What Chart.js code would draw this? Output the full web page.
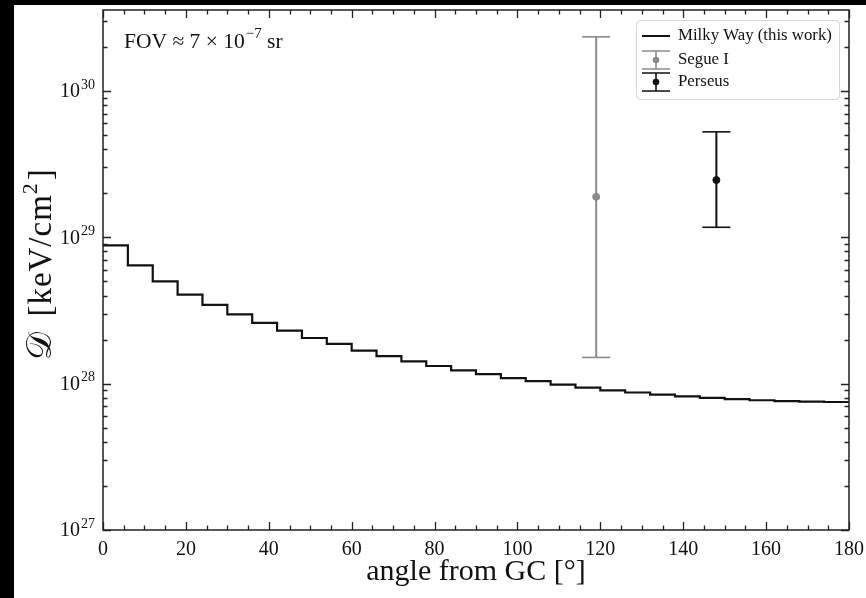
<!DOCTYPE html>
<html>
<head>
<meta charset="utf-8">
<script src="https://cdn.jsdelivr.net/npm/chart.js@4.4.1/dist/chart.umd.min.js"></script>
<style>
  html, body { margin: 0; padding: 0; background: #000; }
  #wrap { position: absolute; left: 14px; top: 5px; width: 852px; height: 593px; background: #fff; }
</style>
</head>
<body>
<div id="wrap"><canvas id="chart"></canvas></div>
<script>
// bin edges of the Milky Way histogram (deg) and the value in each 6 deg bin
const angleEdges = [0, 6, 12, 18, 24, 30, 36, 42, 48, 54, 60, 66, 72, 78, 84, 90,
  96, 102, 108, 114, 120, 126, 132, 138, 144, 150, 156, 162, 168, 174, 180];
const milkyWay = [8.8e28, 6.42e28, 4.99e28, 4.05e28, 3.45e28, 2.97e28, 2.6e28, 2.3e28,
  2.05e28, 1.87e28, 1.68e28, 1.54e28, 1.42e28, 1.32e28, 1.23e28, 1.16e28, 1.09e28,
  1.04e28, 0.985e28, 0.94e28, 0.9e28, 0.87e28, 0.84e28, 0.818e28, 0.8e28, 0.783e28,
  0.77e28, 0.76e28, 0.753e28, 0.749e28];

// dwarf / cluster points with error bars
const segueAngle = 119, segueD = 1.89e29, segueLo = 1.51e28, segueHi = 2.34e30;
const perseusAngle = 148, perseusD = 2.46e29, perseusLo = 1.17e29, perseusHi = 5.25e29;

const yDecades = [27, 28, 29, 30];

const GREY = "#8a8a8a";
const SERIF = "'Liberation Serif', 'DejaVu Serif', serif";

const stepData = angleEdges.map((a, i) => ({ x: a, y: milkyWay[Math.min(i, milkyWay.length - 1)] }));

function errorBar(x, lo, hi, color) {
    return {
        data: [{ x: x, y: lo }, { x: x, y: hi }],
        borderColor: color,
        borderWidth: 2,
        pointStyle: "line",
        pointRadius: 14,
        pointBorderWidth: 1.6,
        pointBorderColor: color,
        pointHoverRadius: 14
    };
}
function dot(x, y, color) {
    return {
        data: [{ x: x, y: y }],
        showLine: false,
        pointRadius: 3.5,
        pointBackgroundColor: color,
        pointBorderColor: color
    };
}

// inward ticks on all four sides, spines, y labels, y title, FOV note and legend
const axesDecor = {
    id: "axesDecor",
    afterDatasetsDraw(chart) {
        const ctx = chart.ctx;
        const a = chart.chartArea;
        const xs = chart.scales.x, ys = chart.scales.y;
        ctx.save();
        ctx.strokeStyle = "#222";
        ctx.lineWidth = 1.3;
        ctx.beginPath();
        for (let v = 0; v <= 180; v += 5) {
            const px = Math.round(xs.getPixelForValue(v)) + 0.5;
            const len = v % 20 === 0 ? 8 : 4.5;
            ctx.moveTo(px, a.bottom); ctx.lineTo(px, a.bottom - len);
            ctx.moveTo(px, a.top); ctx.lineTo(px, a.top + len);
        }
        for (const e of yDecades) {
            for (let m = 1; m <= 9; m++) {
                const v = m * Math.pow(10, e);
                if (v > ys.max) break;
                const py = Math.round(ys.getPixelForValue(v)) + 0.5;
                const len = m === 1 ? 8 : 4.5;
                ctx.moveTo(a.left, py); ctx.lineTo(a.left + len, py);
                ctx.moveTo(a.right, py); ctx.lineTo(a.right - len, py);
            }
        }
        ctx.stroke();
        ctx.lineWidth = 1.5;
        ctx.strokeRect(a.left, a.top, a.right - a.left, a.bottom - a.top);

        // y tick labels 10^e
        ctx.fillStyle = "#111";
        ctx.textBaseline = "middle";
        for (const e of yDecades) {
            const py = ys.getPixelForValue(Math.pow(10, e));
            ctx.textAlign = "right";
            ctx.font = "14px " + SERIF;
            const ex = String(e);
            const ew = ctx.measureText(ex).width;
            ctx.fillText(ex, a.left - 8, py - 6);
            ctx.font = "20px " + SERIF;
            ctx.fillText("10", a.left - 9 - ew, py + 1);
        }

        // y axis title, rotated
        const parts = [["𝒟", 35, 0, 5], [" [keV/cm", 33, 0, 0], ["2", 22, -11, 2], ["]", 33, 0, 0]];
        ctx.save();
        ctx.letterSpacing = "1px";
        let w = 0;
        parts.forEach(([s, f, dy, gap]) => { ctx.font = f + "px " + SERIF; w += ctx.measureText(s).width + gap; });
        ctx.translate(27, (a.top + a.bottom) / 2 - 6);
        ctx.rotate(-Math.PI / 2);
        ctx.textAlign = "left";
        let cx = -w / 2;
        parts.forEach(([s, f, dy, gap]) => {
            ctx.font = f + "px " + SERIF;
            ctx.fillText(s, cx, dy + 1);
            cx += ctx.measureText(s).width + gap;
        });
        ctx.restore();

        // FOV annotation
        ctx.textAlign = "left";
        let tx = a.left + 21, ty = a.top + 32;
        ctx.font = "21.5px " + SERIF;
        const t1 = "FOV ≈ 7 × 10";
        ctx.fillText(t1, tx, ty);
        tx += ctx.measureText(t1).width + 1;
        ctx.font = "15px " + SERIF;
        ctx.fillText("−7", tx, ty - 8);
        tx += ctx.measureText("−7").width;
        ctx.font = "21.5px " + SERIF;
        ctx.fillText(" sr", tx, ty);

        // legend
        const bx = a.right - 213, by = a.top + 10, bw = 203, bh = 79;
        ctx.fillStyle = "rgba(255,255,255,0.85)";
        ctx.strokeStyle = "#d4d4d4";
        ctx.lineWidth = 1;
        ctx.beginPath();
        ctx.roundRect(bx + 0.5, by + 0.5, bw, bh, 4);
        ctx.fill();
        ctx.stroke();
        const sx0 = bx + 6, sx1 = bx + 34, sxm = (sx0 + sx1) / 2;
        const rows = [by + 16, by + 40, by + 62];
        ctx.strokeStyle = "#111";
        ctx.lineWidth = 2;
        ctx.beginPath();
        ctx.moveTo(sx0, rows[0]); ctx.lineTo(sx1, rows[0]);
        ctx.stroke();
        [[rows[1], GREY], [rows[2], "#111"]].forEach(([ry, col]) => {
            ctx.strokeStyle = col;
            ctx.fillStyle = col;
            ctx.lineWidth = 1.6;
            ctx.beginPath();
            ctx.moveTo(sx0, ry - 9); ctx.lineTo(sx1, ry - 9);
            ctx.moveTo(sx0, ry + 9); ctx.lineTo(sx1, ry + 9);
            ctx.moveTo(sxm, ry - 9); ctx.lineTo(sxm, ry + 9);
            ctx.stroke();
            ctx.beginPath();
            ctx.arc(sxm, ry, 3.3, 0, Math.PI * 2);
            ctx.fill();
        });
        ctx.fillStyle = "#111";
        ctx.font = "16.8px " + SERIF;
        ctx.fillText("Milky Way (this work)", bx + 42, rows[0]);
        ctx.fillText("Segue I", bx + 42, rows[1]);
        ctx.fillText("Perseus", bx + 42, rows[2]);
        ctx.restore();
    }
};

new Chart(document.getElementById("chart"), {
    type: "line",
    data: {
        datasets: [
            {
                data: stepData,
                stepped: "before",
                borderColor: "#111",
                borderWidth: 2.2,
                pointRadius: 0,
                fill: false
            },
            errorBar(segueAngle, segueLo, segueHi, GREY),
            dot(segueAngle, segueD, GREY),
            errorBar(perseusAngle, perseusLo, perseusHi, "#111"),
            dot(perseusAngle, perseusD, "#111")
        ]
    },
    options: {
        responsive: true,
        maintainAspectRatio: false,
        animation: false,
        layout: { autoPadding: false, padding: { left: 0, top: 5, right: 17, bottom: 0 } },
        plugins: {
            legend: { display: false },
            tooltip: { enabled: false }
        },
        scales: {
            x: {
                type: "linear",
                min: 0,
                max: 180,
                grid: { display: false, drawTicks: false },
                border: { display: false },
                ticks: { stepSize: 20, padding: 8, color: "#111", font: { family: SERIF, size: 20 } },
                title: { display: true, text: "angle from GC [°]", color: "#111", padding: { top: 0, bottom: 8 },
                    font: { family: SERIF, size: 30 } },
                afterFit(s) { s.height = 68; s.paddingLeft = 0; s.paddingRight = 0; }
            },
            y: {
                type: "logarithmic",
                min: 1e27,
                max: 3.57e30,
                grid: { display: false, drawTicks: false },
                border: { display: false },
                ticks: { display: false },
                afterFit(s) { s.width = 89; s.paddingTop = 0; s.paddingBottom = 0; }
            }
        }
    },
    plugins: [axesDecor]
});
</script>
</body>
</html>
